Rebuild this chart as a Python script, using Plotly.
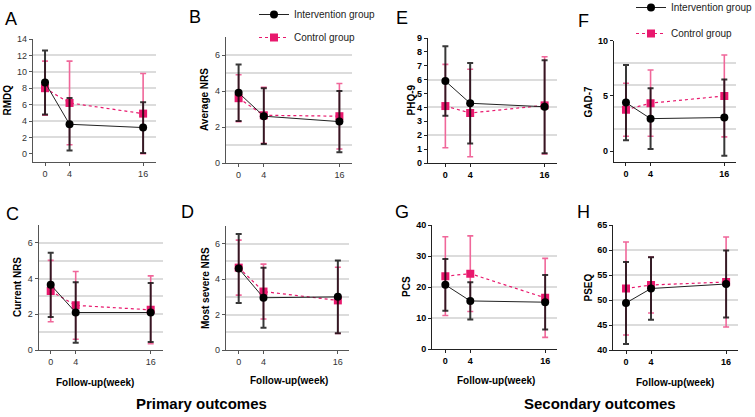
import plotly.graph_objects as go

# ---------------- data ----------------
weeks = [0, 4, 16]
week_ticks = [0, 4, 16]

rmdq_int_mean = [8.7, 3.6, 3.2]
rmdq_int_sd = [3.9, 3.2, 3.1]
rmdq_ctl_mean = [8.0, 6.2, 4.9]
rmdq_ctl_sd = [3.3, 5.1, 4.9]

avgnrs_int_mean = [3.9, 2.6, 2.3]
avgnrs_int_sd = [1.57, 1.55, 1.7]
avgnrs_ctl_mean = [3.6, 2.65, 2.6]
avgnrs_ctl_sd = [1.3, 1.55, 1.82]

curnrs_int_mean = [3.65, 2.1, 2.1]
curnrs_int_sd = [1.8, 1.7, 1.65]
curnrs_ctl_mean = [3.3, 2.5, 2.25]
curnrs_ctl_sd = [1.72, 1.9, 1.9]

sevnrs_int_mean = [4.6, 2.95, 3.0]
sevnrs_int_sd = [1.95, 1.7, 2.05]
sevnrs_ctl_mean = [4.65, 3.3, 2.8]
sevnrs_ctl_sd = [1.55, 1.55, 1.87]

phq_int_mean = [5.9, 4.3, 4.05]
phq_int_sd = [2.5, 2.9, 3.35]
phq_ctl_mean = [4.1, 3.6, 4.15]
phq_ctl_sd = [3.0, 3.15, 3.5]

gad_int_mean = [4.4, 2.95, 3.05]
gad_int_sd = [3.4, 2.75, 3.45]
gad_ctl_mean = [3.75, 4.35, 5.0]
gad_ctl_sd = [2.4, 3.0, 3.7]

pcs_int_mean = [20.7, 15.5, 15.1]
pcs_int_sd = [8.35, 6.0, 8.8]
pcs_ctl_mean = [23.5, 24.3, 16.5]
pcs_ctl_sd = [12.7, 12.2, 12.75]

pseq_int_mean = [49.4, 52.3, 53.2]
pseq_int_sd = [8.2, 6.25, 6.7]
pseq_ctl_mean = [52.3, 53.0, 53.6]
pseq_ctl_sd = [9.3, 5.6, 9.0]

panel_letters = ["A", "B", "C", "D", "E", "F", "G", "H"]
y_titles = ["RMDQ", "Average NRS", "Current NRS", "Most severe NRS",
            "PHQ-9", "GAD-7", "PCS", "PSEQ"]
y_ticks = [[0, 2, 4, 6, 8, 10, 12, 14], [0, 2, 4, 6], [0, 2, 4, 6], [0, 2, 4, 6],
           list(range(10)), [0, 5, 10], [0, 10, 20, 30, 40], [40, 45, 50, 55, 60, 65]]
y_grid = [[2, 4, 6, 8, 10, 12, 14], [1, 2, 3, 4, 5, 6], [1, 2, 3, 4, 5, 6], [1, 2, 3, 4, 5, 6],
          [2, 4, 6], [2, 4, 6, 8], [10, 20, 30], [45, 50, 55, 60]]
series = [
    (rmdq_int_mean, rmdq_int_sd, rmdq_ctl_mean, rmdq_ctl_sd),
    (avgnrs_int_mean, avgnrs_int_sd, avgnrs_ctl_mean, avgnrs_ctl_sd),
    (curnrs_int_mean, curnrs_int_sd, curnrs_ctl_mean, curnrs_ctl_sd),
    (sevnrs_int_mean, sevnrs_int_sd, sevnrs_ctl_mean, sevnrs_ctl_sd),
    (phq_int_mean, phq_int_sd, phq_ctl_mean, phq_ctl_sd),
    (gad_int_mean, gad_int_sd, gad_ctl_mean, gad_ctl_sd),
    (pcs_int_mean, pcs_int_sd, pcs_ctl_mean, pcs_ctl_sd),
    (pseq_int_mean, pseq_int_sd, pseq_ctl_mean, pseq_ctl_sd),
]

# ---------------- layout (pixels) ----------------
W, H = 755, 417
# plot boxes: x0, x1, ytop, ybottom (px)
boxes = [
    (33, 156, 39, 162), (226, 352, 37, 163), (38.7, 163, 225, 350), (226, 349, 226, 350),
    (428, 557, 38, 163), (614, 736, 40.7, 162.3), (432.3, 557, 225, 349), (613.3, 738, 225, 350),
]
x_ranges = [[-1.96, 18.1], [-2.0, 18.0], [-1.92, 17.97], [-2.05, 17.8],
            [-2.8, 18.0], [-1.95, 17.9], [-2.09, 17.9], [-2.03, 17.9]]
y_ranges = [[-1, 14], [0, 7], [0, 7], [0, 7], [0, 9], [-1, 10], [0, 40], [40, 65]]
letter_pos = [(11, 19), (195, 17), (12, 214), (187, 212), (402, 18), (583, 21), (402, 212), (583, 212)]
ytitle_x = [7, 204, 17.5, 205, 411, 588, 406, 588]
xtitle_pos = {2: (95, 382), 3: (289, 380), 6: (496, 380), 7: (675, 382)}

FONT = "Liberation Sans, Arial, sans-serif"
PINK = "#e8186d"
PINK_BAR = "#f0679a"

fig = go.Figure()
annotations = []

def px_x(v):
    return v / W

def px_y(v):
    return 1 - v / H

for i in range(8):
    n = i + 1
    xa = "x" if n == 1 else f"x{n}"
    ya = "y" if n == 1 else f"y{n}"
    im, isd, cm, csd = series[i]
    if i == 1:
        leg, show = "legend", True
    elif i == 5:
        leg, show = "legend2", True
    else:
        leg, show = "legend", False
    # control group
    fig.add_trace(go.Scatter(
        x=weeks, y=cm, mode="lines+markers", name="Control group",
        line=dict(color=PINK, width=1.2, dash="dot"),
        marker=dict(symbol="square", size=8, color=PINK),
        error_y=dict(type="data", array=csd, visible=True, color=PINK_BAR, thickness=1.6, width=3),
        xaxis=xa, yaxis=ya, showlegend=show, legend=leg, legendgroup="ctl", legendrank=2,
    ))
    # intervention group
    fig.add_trace(go.Scatter(
        x=weeks, y=im, mode="lines+markers", name="Intervention group",
        line=dict(color="#222222", width=1),
        marker=dict(symbol="circle", size=8, color="black"),
        error_y=dict(type="data", array=isd, visible=True, color="rgba(0,0,0,0.78)", thickness=2, width=3),
        xaxis=xa, yaxis=ya, showlegend=show, legend=leg, legendgroup="int", legendrank=1,
    ))

    x0, x1, yt, yb = boxes[i]
    bold = i >= 4
    axcol = "#222222" if bold else "#555555"
    tickfont = dict(family=FONT, size=9, color="black" if bold else "#333333",
                    weight="bold" if bold else "normal")
    xkey = "xaxis" if n == 1 else f"xaxis{n}"
    ykey = "yaxis" if n == 1 else f"yaxis{n}"
    fig.layout[xkey] = dict(
        domain=[px_x(x0), px_x(x1)], anchor=ya, range=x_ranges[i],
        tickmode="array", tickvals=week_ticks, ticks="outside", ticklen=3, tickwidth=1.2,
        tickcolor=axcol, showline=True, linecolor=axcol, linewidth=1.3,
        showgrid=False, zeroline=False, tickfont=tickfont, fixedrange=True,
    )
    fig.layout[ykey] = dict(
        domain=[px_y(yb), px_y(yt)], anchor=xa, range=y_ranges[i],
        tickmode="array", tickvals=y_ticks[i], ticks="outside", ticklen=3, tickwidth=1.2,
        tickcolor=axcol, showline=True, linecolor=axcol, linewidth=1.3,
        showgrid=False, zeroline=False, tickfont=tickfont, fixedrange=True,
        minor=dict(tickvals=y_grid[i], showgrid=True, gridcolor="#dcdcdc", gridwidth=1.6, ticklen=0),
    )

    lx, ly = letter_pos[i]
    annotations.append(dict(text=panel_letters[i], x=px_x(lx), y=px_y(ly), xref="paper", yref="paper",
                            showarrow=False, xanchor="center", yanchor="middle",
                            font=dict(family=FONT, size=18, color="black")))
    annotations.append(dict(text=y_titles[i], x=px_x(ytitle_x[i]), y=px_y((yt + yb) / 2),
                            xref="paper", yref="paper", showarrow=False, textangle=-90,
                            xanchor="center", yanchor="middle",
                            font=dict(family=FONT, size=10, color="black", weight="bold")))
    if i in xtitle_pos:
        tx, ty = xtitle_pos[i]
        annotations.append(dict(text="Follow-up(week)", x=px_x(tx), y=px_y(ty), xref="paper", yref="paper",
                                showarrow=False, xanchor="center", yanchor="middle",
                                font=dict(family=FONT, size=10, color="black", weight="bold")))

annotations.append(dict(text="Primary outcomes", x=px_x(201), y=px_y(403), xref="paper", yref="paper",
                        showarrow=False, xanchor="center", yanchor="middle",
                        font=dict(family=FONT, size=15, color="black", weight="bold")))
annotations.append(dict(text="Secondary outcomes", x=px_x(600), y=px_y(403), xref="paper", yref="paper",
                        showarrow=False, xanchor="center", yanchor="middle",
                        font=dict(family=FONT, size=15, color="black", weight="bold")))

legend_common = dict(font=dict(family=FONT, size=10, color="#222222"), bgcolor="rgba(0,0,0,0)",
                     traceorder="grouped", itemwidth=30,
                     xanchor="left", yanchor="top", orientation="v")
fig.update_layout(
    width=W, height=H, margin=dict(l=0, r=0, t=0, b=0, autoexpand=False),
    paper_bgcolor="white", plot_bgcolor="white",
    font=dict(family=FONT, size=10, color="black"),
    annotations=annotations,
    legend=dict(x=px_x(254), y=1.0, tracegroupgap=4, **legend_common),
    legend2=dict(x=px_x(631), y=px_y(-7), tracegroupgap=7, **legend_common),
)

fig.write_html("out.html", config={"displayModeBar": False},
               post_script="document.body.style.margin='0px';document.body.style.overflow='hidden';")
